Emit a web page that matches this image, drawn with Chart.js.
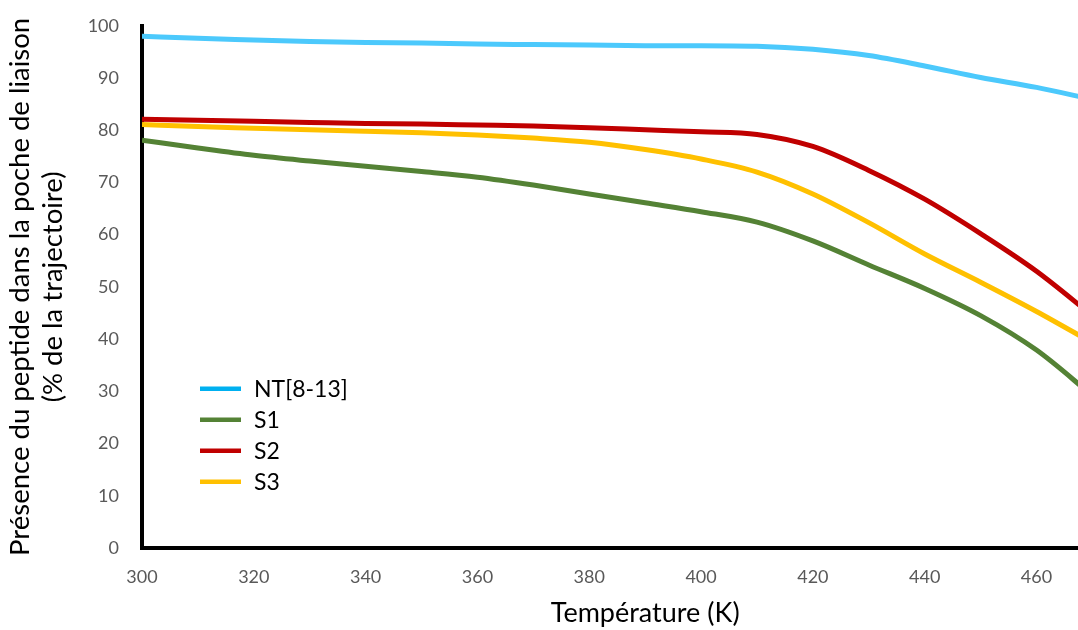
<!DOCTYPE html>
<html lang="fr">
<head>
<meta charset="utf-8">
<title>Présence du peptide</title>
<script src="https://cdn.jsdelivr.net/npm/chart.js@4/dist/chart.umd.min.js"></script>
<style>
  html, body { margin: 0; padding: 0; background: #fff; overflow: hidden; }
  #wrap { width: 1174px; height: 630px; }
</style>
</head>
<body>
<div id="wrap"><canvas id="chart" width="1174" height="630"></canvas></div>
<script>
const temperatures = [300, 310, 320, 330, 340, 350, 360, 370, 380, 390, 400, 410, 420, 430, 440, 450, 460, 470];
const nt813 = [98.0, 97.6, 97.3, 97.0, 96.8, 96.7, 96.5, 96.4, 96.3, 96.2, 96.2, 96.1, 95.5, 94.3, 92.3, 90.1, 88.2, 85.9];
const s1 = [78.1, 76.6, 75.2, 74.1, 73.1, 72.1, 71.0, 69.5, 67.8, 66.1, 64.4, 62.4, 58.8, 54.2, 49.7, 44.5, 37.9, 29.2];
const s2 = [82.1, 81.9, 81.7, 81.5, 81.3, 81.2, 81.0, 80.8, 80.5, 80.1, 79.7, 79.2, 76.9, 72.3, 66.8, 60.2, 53.0, 44.5];
const s3 = [81.1, 80.7, 80.4, 80.1, 79.8, 79.5, 79.1, 78.5, 77.7, 76.3, 74.5, 72.0, 67.8, 62.3, 56.3, 50.9, 45.3, 39.3];

const seriesNames = ["NT[8-13]", "S1", "S2", "S3"];
const lineColors = ["#4cc9fc", "#548235", "#c00000", "#ffc000"];
const legendColors = ["#00b0f0", "#548235", "#c00000", "#ffc000"];

const xTicks = { min: 300, max: 480, step: 20 };
const yTicks = { min: 0, max: 100, step: 10 };

const FONT = "Lato";

const toPoints = (values) => values.map((v, i) => ({ x: temperatures[i], y: v }));

// legend drawn inside the plot, bottom-left
const insideLegend = {
  id: "insideLegend",
  afterDatasetsDraw(chart) {
    const { ctx, chartArea } = chart;
    const x0 = chartArea.left + 58;
    const y0 = chartArea.top + 363;
    ctx.save();
    ctx.font = `23px ${FONT}`;
    ctx.textBaseline = "middle";
    chart.data.datasets.forEach((ds, i) => {
      const y = y0 + i * 31;
      ctx.strokeStyle = legendColors[i];
      ctx.lineWidth = 4.5;
      ctx.beginPath();
      ctx.moveTo(x0, y);
      ctx.lineTo(x0 + 41, y);
      ctx.stroke();
      ctx.fillStyle = "#000";
      ctx.fillText(ds.label, x0 + 54, y + 1);
    });
    ctx.restore();
  },
};

const chart = new Chart(document.getElementById("chart"), {
  type: "line",
  data: {
    datasets: [nt813, s1, s2, s3].map((values, i) => ({
      label: seriesNames[i],
      data: toPoints(values),
      borderColor: lineColors[i],
      backgroundColor: lineColors[i],
      borderWidth: 5,
      pointRadius: 0,
      cubicInterpolationMode: "monotone",
      fill: false,
    })),
  },
  options: {
    responsive: false,
    animation: false,
    layout: { padding: { top: 22, right: 15, left: 0, bottom: 0 } },
    plugins: {
      legend: { display: false },
      tooltip: { enabled: false },
    },
    scales: {
      x: {
        type: "linear",
        min: xTicks.min,
        max: xTicks.max,
        grid: { display: false },
        border: { display: true, color: "#000", width: 4 },
        ticks: {
          stepSize: xTicks.step,
          padding: 10,
          color: "#595959",
          font: { family: FONT, size: 18 },
        },
        title: {
          display: true,
          text: "Température (K)",
          color: "#000",
          font: { family: FONT, size: 27, lineHeight: 1.2 },
          padding: { top: 0, bottom: 1 },
        },
        afterFit(scale) {
          scale.height = 82;
        },
      },
      y: {
        min: yTicks.min,
        max: yTicks.max,
        grid: { display: false },
        border: { display: true, color: "#000", width: 4 },
        ticks: {
          stepSize: yTicks.step,
          padding: 15,
          color: "#595959",
          font: { family: FONT, size: 18 },
        },
        title: {
          display: true,
          text: ["Présence du peptide dans la poche de liaison", "(% de la trajectoire)"],
          color: "#000",
          font: { family: FONT, size: 27.5, lineHeight: 1.2 },
          padding: { top: 4, bottom: 0 },
        },
        afterFit(scale) {
          scale.width = 142;
        },
      },
    },
  },
  plugins: [insideLegend],
});
</script>
</body>
</html>
